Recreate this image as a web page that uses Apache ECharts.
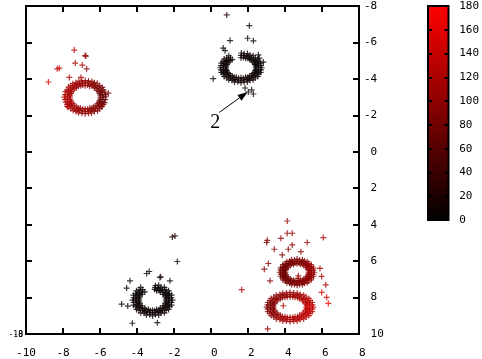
<!DOCTYPE html>
<html><head><meta charset="utf-8">
<script src="https://cdn.jsdelivr.net/npm/echarts@6/dist/echarts.min.js"></script>
<style>html,body{margin:0;padding:0;background:#fff}#c{width:482px;height:359px}</style>
</head><body><div id="c"></div>
<script>
// ---- data: [x, y, colour value] ----
const ringA = [
[-5.98,-3.00,70],[-6.03,-2.79,75],[-6.13,-2.63,85],[-6.33,-2.47,95],[-6.55,-2.40,100],[-6.80,-2.35,105],[-7.06,-2.40,108],[-7.27,-2.47,112],[-7.46,-2.63,116],[-7.57,-2.80,120],[-7.63,-3.01,120],[-7.57,-3.20,118],[-7.45,-3.39,115],[-7.28,-3.52,112],[-7.04,-3.62,108],[-6.80,-3.63,105],[-6.56,-3.60,100],[-6.31,-3.53,90],[-6.15,-3.37,82],[-6.01,-3.21,75],
[-5.68,-3.02,68],[-5.75,-2.70,72],[-5.90,-2.47,82],[-6.13,-2.24,92],[-6.46,-2.12,100],[-6.80,-2.09,105],[-7.16,-2.14,110],[-7.45,-2.26,114],[-7.72,-2.45,118],[-7.85,-2.72,122],[-7.93,-3.00,124],[-7.86,-3.30,122],[-7.70,-3.55,118],[-7.47,-3.74,114],[-7.14,-3.88,110],[-6.80,-3.91,105],[-6.44,-3.86,98],[-6.15,-3.76,88],[-5.88,-3.53,80],[-5.75,-3.28,72],
[-5.84,-2.88,70],[-5.95,-2.64,78],[-6.10,-2.45,88],[-6.37,-2.30,96],[-6.64,-2.22,102],[-6.97,-2.24,107],[-7.24,-2.30,111],[-7.50,-2.46,115],[-7.66,-2.64,120],[-7.77,-2.89,122],[-7.75,-3.12,121],[-7.67,-3.36,118],[-7.48,-3.55,114],[-7.25,-3.70,110],[-6.95,-3.77,106],[-6.63,-3.78,102],[-6.37,-3.68,94],[-6.10,-3.56,85],[-5.93,-3.35,76],[-5.85,-3.12,70]
];
const ringA2 = [
[-5.98,-2.89,72],[-6.06,-2.70,80],[-6.21,-2.52,88],[-6.43,-2.40,96],[-6.67,-2.34,102],[-6.93,-2.34,107],[-7.17,-2.40,110],[-7.39,-2.52,114],[-7.54,-2.70,118],[-7.62,-2.89,121],[-7.62,-3.11,121],[-7.54,-3.30,118],[-7.39,-3.48,114],[-7.17,-3.60,110],[-6.93,-3.66,107],[-6.67,-3.66,102],[-6.43,-3.60,96],[-6.21,-3.48,88],[-6.06,-3.30,80],[-5.98,-3.11,72],
[-5.83,-3.00,70],[-5.88,-2.76,75],[-6.01,-2.54,85],[-6.23,-2.37,92],[-6.50,-2.26,100],[-6.80,-2.22,105],[-7.10,-2.26,108],[-7.37,-2.37,112],[-7.59,-2.54,116],[-7.72,-2.76,120],[-7.77,-3.00,122],[-7.72,-3.24,120],[-7.59,-3.46,116],[-7.37,-3.63,112],[-7.10,-3.74,108],[-6.80,-3.78,105],[-6.50,-3.74,100],[-6.23,-3.63,92],[-6.01,-3.46,85],[-5.88,-3.24,75],
[-5.71,-2.86,72],[-5.82,-2.60,80],[-6.02,-2.37,88],[-6.30,-2.21,96],[-6.62,-2.12,102],[-6.98,-2.12,107],[-7.30,-2.21,110],[-7.58,-2.37,114],[-7.78,-2.60,118],[-7.89,-2.86,121],[-7.89,-3.14,121],[-7.78,-3.40,118],[-7.58,-3.63,114],[-7.30,-3.79,110],[-6.98,-3.88,107],[-6.62,-3.88,102],[-6.30,-3.79,96],[-6.02,-3.63,88],[-5.82,-3.40,80],[-5.71,-3.14,72]
];
const outA = [
[-8.79,-3.83,160],[-8.31,-4.55,135],[-8.20,-4.59,135],[-7.39,-5.58,140],[-6.81,-5.28,105],[-6.76,-5.25,105],[-7.34,-4.87,110],[-6.96,-4.76,120],[-6.72,-4.55,105],[-7.66,-4.08,125],[-7.03,-4.08,120],[-5.55,-3.22,85],[-7.77,-2.49,125],[-5.91,-2.49,90]
];
const ringB = [
[2.42,-4.61,5],[2.38,-4.44,5],[2.27,-4.29,8],[2.09,-4.16,8],[1.87,-4.09,10],[1.62,-4.06,10],[1.37,-4.09,10],[1.15,-4.16,8],[0.97,-4.29,8],[0.86,-4.44,6],[0.82,-4.61,6],[0.86,-4.78,6],[0.97,-4.93,8],[1.15,-5.06,8],[1.62,-5.16,10],[1.87,-5.13,10],[2.09,-5.06,8],[2.27,-4.93,6],[2.38,-4.78,5],
[2.74,-4.61,5],[2.68,-4.36,5],[2.53,-4.13,8],[2.28,-3.95,10],[1.97,-3.83,12],[1.62,-3.79,12],[1.27,-3.83,10],[0.96,-3.95,10],[0.71,-4.13,8],[0.56,-4.36,6],[0.50,-4.61,6],[0.56,-4.86,6],[0.71,-5.09,8],[0.96,-5.27,8],[1.64,-5.42,10],[1.97,-5.39,10],[2.28,-5.27,8],[2.53,-5.09,6],[2.68,-4.86,5],
[2.57,-4.50,5],[2.47,-4.30,6],[2.30,-4.13,8],[2.05,-4.00,10],[1.77,-3.94,12],[1.47,-3.94,12],[1.19,-4.00,10],[0.94,-4.13,8],[0.77,-4.30,6],[0.67,-4.50,6],[0.67,-4.72,6],[0.77,-4.92,8],[0.94,-5.09,8],[1.77,-5.28,10],[2.05,-5.22,8],[2.30,-5.09,6],[2.47,-4.92,5],[2.57,-4.72,5]
];
const ringB2 = [
[2.43,-4.52,5],[2.35,-4.35,6],[2.20,-4.20,8],[1.99,-4.09,10],[1.75,-4.04,12],[1.49,-4.04,12],[1.25,-4.09,10],[1.04,-4.20,8],[0.89,-4.35,6],[0.81,-4.52,6],[0.81,-4.70,6],[0.89,-4.87,8],[1.04,-5.02,8],[1.75,-5.18,10],[1.99,-5.13,8],[2.20,-5.02,6],[2.35,-4.87,5],[2.43,-4.70,5],
[2.58,-4.61,5],[2.53,-4.40,5],[2.40,-4.21,8],[2.19,-4.06,10],[1.92,-3.96,12],[1.62,-3.93,12],[1.32,-3.96,10],[1.05,-4.06,10],[0.84,-4.21,8],[0.71,-4.40,6],[0.66,-4.61,6],[0.71,-4.82,6],[0.84,-5.01,8],[1.05,-5.16,8],[1.62,-5.29,10],[1.92,-5.26,10],[2.19,-5.16,8],[2.40,-5.01,6],[2.53,-4.82,5],
[2.70,-4.49,5],[2.59,-4.26,6],[2.39,-4.06,8],[2.11,-3.92,10],[1.79,-3.84,12],[1.45,-3.84,12],[1.13,-3.92,10],[0.85,-4.06,8],[0.65,-4.26,6],[0.54,-4.49,6],[0.54,-4.73,6],[0.65,-4.96,8],[0.85,-5.16,8],[1.79,-5.38,10],[2.11,-5.30,8],[2.39,-5.16,6],[2.59,-4.96,5],[2.70,-4.73,5]
];
const outB = [
[0.85,-7.51,30],[2.07,-6.92,5],[1.98,-6.23,5],[2.29,-6.09,5],[1.03,-6.10,5],[0.66,-5.69,5],[0.76,-5.55,5],[2.56,-5.32,5],[2.61,-5.14,5],[2.83,-4.92,5],[0.12,-4.01,5],[2.20,-3.40,10],[2.29,-3.17,10],[2.02,-3.28,10],[1.84,-3.50,10]
];
const ringC = [
[-2.44,8.14,5],[-2.48,8.31,5],[-2.58,8.46,6],[-2.74,8.59,8],[-2.94,8.66,8],[-3.16,8.69,10],[-3.38,8.66,10],[-3.58,8.59,10],[-3.74,8.46,10],[-3.84,8.31,8],[-3.88,8.14,8],[-3.84,7.97,6],[-3.74,7.82,6],[-3.58,7.69,6],[-2.94,7.62,5],[-2.74,7.69,5],[-2.58,7.82,5],[-2.48,7.97,5],
[-2.08,8.14,5],[-2.13,8.41,5],[-2.29,8.65,6],[-2.52,8.84,8],[-2.83,8.96,10],[-3.16,9.00,10],[-3.49,8.96,10],[-3.80,8.84,10],[-4.03,8.65,10],[-4.19,8.41,8],[-4.24,8.14,8],[-4.19,7.87,6],[-4.03,7.63,6],[-3.80,7.44,6],[-2.83,7.32,5],[-2.52,7.44,5],[-2.29,7.63,5],[-2.13,7.87,5],
[-2.27,8.25,5],[-2.36,8.46,6],[-2.52,8.64,8],[-2.75,8.76,8],[-3.02,8.83,10],[-3.30,8.83,10],[-3.57,8.76,10],[-3.80,8.64,10],[-3.96,8.46,8],[-4.05,8.25,8],[-4.05,8.03,6],[-3.96,7.82,6],[-3.80,7.64,6],[-3.02,7.45,5],[-2.75,7.52,5],[-2.52,7.64,5],[-2.36,7.82,5],[-2.27,8.03,5]
];
const ringC2 = [
[-2.40,8.24,5],[-2.47,8.41,6],[-2.61,8.57,8],[-2.81,8.67,8],[-3.04,8.73,10],[-3.28,8.73,10],[-3.51,8.67,10],[-3.71,8.57,10],[-3.85,8.41,8],[-3.92,8.24,8],[-3.92,8.04,6],[-3.85,7.87,6],[-3.71,7.71,6],[-3.04,7.55,5],[-2.81,7.61,5],[-2.61,7.71,5],[-2.47,7.87,5],[-2.40,8.04,5],
[-2.26,8.14,5],[-2.30,8.36,5],[-2.43,8.55,6],[-2.63,8.71,8],[-2.88,8.81,10],[-3.16,8.84,10],[-3.44,8.81,10],[-3.69,8.71,10],[-3.89,8.55,10],[-4.02,8.36,8],[-4.06,8.14,8],[-4.02,7.92,6],[-3.89,7.73,6],[-3.69,7.57,6],[-2.88,7.47,5],[-2.63,7.57,5],[-2.43,7.73,5],[-2.30,7.92,5],
[-2.14,8.27,5],[-2.24,8.50,6],[-2.43,8.71,8],[-2.70,8.85,8],[-3.00,8.93,10],[-3.32,8.93,10],[-3.62,8.85,10],[-3.89,8.71,10],[-4.08,8.50,8],[-4.18,8.27,8],[-4.18,8.01,6],[-4.08,7.78,6],[-3.89,7.57,6],[-3.00,7.35,5],[-2.70,7.43,5],[-2.43,7.57,5],[-2.24,7.78,5],[-2.14,8.01,5]
];
const outC = [
[-2.09,4.67,20],[-1.95,4.62,20],[-1.82,6.02,5],[-3.48,6.68,5],[-3.34,6.57,5],[-2.76,6.90,15],[-2.72,6.86,15],[-4.38,7.08,5],[-4.56,7.48,5],[-2.22,7.08,5],[-4.83,8.36,5],[-4.50,8.47,5],[-4.25,9.41,5],[-2.90,9.38,5]
];
const ringD = [
[5.27,6.61,105],[5.24,6.75,105],[5.15,6.88,100],[5.02,6.98,95],[4.84,7.05,90],[4.65,7.07,88],[4.46,7.05,85],[4.28,6.98,82],[4.15,6.88,80],[4.06,6.75,80],[4.03,6.61,80],[4.06,6.47,80],[4.15,6.34,82],[4.28,6.24,85],[4.46,6.17,88],[4.65,6.15,90],[4.84,6.17,95],[5.02,6.24,100],[5.15,6.34,105],[5.24,6.47,105],
[5.59,6.61,110],[5.54,6.83,110],[5.41,7.03,105],[5.20,7.19,98],[4.94,7.29,92],[4.65,7.33,88],[4.36,7.29,85],[4.10,7.19,82],[3.89,7.03,80],[3.76,6.83,78],[3.71,6.61,78],[3.76,6.39,78],[3.89,6.19,80],[4.10,6.03,82],[4.36,5.93,85],[4.65,5.89,90],[4.94,5.93,95],[5.20,6.03,100],[5.41,6.19,105],[5.54,6.39,110],
[5.42,6.70,108],[5.34,6.88,105],[5.20,7.03,100],[5.00,7.14,94],[4.77,7.19,90],[4.53,7.19,86],[4.30,7.14,83],[4.10,7.03,80],[3.96,6.88,78],[3.88,6.70,78],[3.88,6.52,78],[3.96,6.34,80],[4.10,6.19,82],[4.30,6.08,85],[4.53,6.03,88],[4.77,6.03,92],[5.00,6.08,96],[5.20,6.19,102],[5.34,6.34,106],[5.42,6.52,108]
];
const ringD2 = [
[5.31,6.69,108],[5.25,6.84,104],[5.13,6.97,99],[4.95,7.06,93],[4.76,7.11,89],[4.54,7.11,86],[4.35,7.06,83],[4.17,6.97,81],[4.05,6.84,79],[3.99,6.69,78],[3.99,6.53,78],[4.05,6.38,79],[4.17,6.25,81],[4.35,6.16,83],[4.54,6.11,86],[4.76,6.11,89],[4.95,6.16,93],[5.13,6.25,99],[5.25,6.38,104],[5.31,6.53,108],
[5.43,6.61,108],[5.39,6.79,106],[5.28,6.96,102],[5.11,7.09,96],[4.89,7.17,91],[4.65,7.20,88],[4.41,7.17,85],[4.19,7.09,82],[4.02,6.96,80],[3.91,6.79,78],[3.87,6.61,78],[3.91,6.43,78],[4.02,6.26,80],[4.19,6.13,82],[4.41,6.05,85],[4.65,6.02,88],[4.89,6.05,91],[5.11,6.13,96],[5.28,6.26,102],[5.39,6.43,106],
[5.53,6.72,108],[5.44,6.92,104],[5.28,7.09,99],[5.05,7.22,93],[4.79,7.28,89],[4.51,7.28,86],[4.25,7.22,83],[4.02,7.09,81],[3.86,6.92,79],[3.77,6.72,78],[3.77,6.50,78],[3.86,6.30,79],[4.02,6.13,81],[4.25,6.00,83],[4.51,5.94,86],[4.79,5.94,89],[5.05,6.00,93],[5.28,6.13,99],[5.44,6.30,104],[5.53,6.50,108]
];
const ringE = [
[5.15,8.52,135],[5.11,8.69,135],[4.98,8.85,130],[4.79,8.97,128],[4.54,9.05,125],[4.27,9.08,120],[4.00,9.05,115],[3.75,8.97,110],[3.56,8.85,100],[3.43,8.69,95],[3.39,8.52,92],[3.43,8.35,92],[3.56,8.19,95],[3.75,8.07,98],[4.00,7.99,100],[4.27,7.96,105],[4.54,7.99,110],[4.79,8.07,118],[4.98,8.19,125],[5.11,8.35,130],
[5.53,8.52,140],[5.47,8.77,140],[5.29,8.99,138],[5.01,9.17,132],[4.66,9.28,128],[4.27,9.32,122],[3.88,9.28,115],[3.53,9.17,108],[3.25,8.99,100],[3.07,8.77,95],[3.01,8.52,90],[3.07,8.27,90],[3.25,8.05,92],[3.53,7.87,95],[3.88,7.76,100],[4.27,7.72,105],[4.66,7.76,112],[5.01,7.87,120],[5.29,8.05,128],[5.47,8.27,135],
[5.33,8.63,138],[5.22,8.83,135],[5.03,9.00,132],[4.75,9.13,128],[4.44,9.19,124],[4.10,9.19,118],[3.79,9.13,112],[3.51,9.00,104],[3.32,8.83,96],[3.21,8.63,92],[3.21,8.41,90],[3.32,8.21,92],[3.51,8.04,96],[3.79,7.91,100],[4.10,7.85,104],[4.44,7.85,108],[4.75,7.91,115],[5.03,8.04,122],[5.22,8.21,130],[5.33,8.41,135]
];
const ringE2 = [
[5.18,8.61,137],[5.09,8.78,134],[4.92,8.93,130],[4.68,9.04,126],[4.42,9.09,122],[4.12,9.09,117],[3.86,9.04,110],[3.62,8.93,102],[3.45,8.78,95],[3.36,8.61,91],[3.36,8.43,90],[3.45,8.26,92],[3.62,8.11,96],[3.86,8.00,100],[4.12,7.95,104],[4.42,7.95,108],[4.68,8.00,114],[4.92,8.11,122],[5.09,8.26,130],[5.18,8.43,136],
[5.34,8.52,138],[5.29,8.73,136],[5.14,8.92,132],[4.90,9.07,128],[4.60,9.17,124],[4.27,9.20,120],[3.94,9.17,114],[3.64,9.07,106],[3.40,8.92,98],[3.25,8.73,93],[3.20,8.52,90],[3.25,8.31,91],[3.40,8.12,94],[3.64,7.97,98],[3.94,7.87,102],[4.27,7.84,106],[4.60,7.87,111],[4.90,7.97,118],[5.14,8.12,126],[5.29,8.31,133],
[5.48,8.64,137],[5.36,8.87,134],[5.14,9.07,130],[4.82,9.21,126],[4.47,9.29,122],[4.07,9.29,117],[3.72,9.21,110],[3.40,9.07,102],[3.18,8.87,95],[3.06,8.64,91],[3.06,8.40,90],[3.18,8.17,92],[3.40,7.97,96],[3.72,7.83,100],[4.07,7.75,104],[4.47,7.75,108],[4.82,7.83,114],[5.14,7.97,122],[5.36,8.17,130],[5.48,8.40,136]
];
const outDE = [
[4.12,3.80,105],[4.12,4.47,100],[4.39,4.47,100],[3.04,4.86,90],[3.01,4.98,90],[3.78,4.75,105],[4.39,5.11,100],[6.07,4.71,125],[5.20,4.98,115],[3.42,5.35,95],[4.18,5.35,100],[4.86,5.48,100],[3.85,5.66,90],[3.10,6.13,95],[2.88,6.44,90],[5.89,6.40,115],[5.98,6.84,120],[3.19,7.08,95],[6.20,7.30,130],[5.98,7.72,150],[6.25,7.99,160],[6.34,8.32,170],[4.72,6.81,110],[4.72,6.95,110],[3.91,8.45,130],[3.06,9.72,100],[1.66,7.57,130]
];

// axes / scale
const xRange = [-10, 8], xStep = 2;
const yRange = [-8, 10], yStep = 2;
const cRange = [0, 180], cStep = 20;
// annotation
const arrowFrom = [0.45, -2.16];
const arrowTo = [1.98, -3.28];
const noteText = '2';
const notePos = [0.23, -1.6];
const cornerTexts = ['-10', '-8'];

const allPoints = [].concat(ringA, ringA2, outA, ringB, ringB2, outB, ringC, ringC2, outC, ringD, ringD2, ringE, ringE2, outDE);

const FONT = 'DejaVu Sans Mono';
const fmt = v => (v < 0 ? String(v) : ' ' + v);
const tickStyle = {show: true, inside: true, length: 6, lineStyle: {color: '#000', width: 2}};
const lbl = {color: '#000', fontFamily: FONT, fontSize: 11, formatter: fmt};
const noLine = {show: false, onZero: false};

const chart = echarts.init(document.getElementById('c'), null, {renderer: 'canvas'});
chart.setOption({
  animation: false,
  backgroundColor: '#fff',
  grid: [
    {left: 26, top: 6, width: 333, height: 329, show: true, borderColor: '#000', borderWidth: 2, backgroundColor: 'transparent'},
    {left: 428, top: 6, width: 23, height: 214, show: true, borderColor: '#000', borderWidth: 2,
     backgroundColor: new echarts.graphic.LinearGradient(0, 0, 0, 1, [{offset: 0, color: '#ff0000'}, {offset: 1, color: '#000000'}])}
  ],
  xAxis: [
    {type: 'value', gridIndex: 0, position: 'bottom', min: xRange[0], max: xRange[1], interval: xStep,
     axisLine: noLine, axisTick: tickStyle, splitLine: {show: false},
     axisLabel: Object.assign({}, lbl, {margin: 14})},
    {type: 'value', gridIndex: 0, position: 'top', min: xRange[0], max: xRange[1], interval: xStep,
     axisLine: noLine, axisTick: tickStyle, splitLine: {show: false}, axisLabel: {show: false}},
    {type: 'value', gridIndex: 1, min: 0, max: 1, show: false}
  ],
  yAxis: [
    {type: 'value', gridIndex: 0, position: 'right', inverse: true, min: yRange[0], max: yRange[1], interval: yStep,
     axisLine: noLine, axisTick: tickStyle, splitLine: {show: false},
     axisLabel: Object.assign({}, lbl, {margin: 5})},
    {type: 'value', gridIndex: 0, position: 'left', inverse: true, min: yRange[0], max: yRange[1], interval: yStep,
     axisLine: noLine, axisTick: tickStyle, splitLine: {show: false}, axisLabel: {show: false}},
    {type: 'value', gridIndex: 1, position: 'right', min: cRange[0], max: cRange[1], interval: cStep,
     axisLine: noLine, axisTick: {show: true, inside: true, length: 4, lineStyle: {color: '#000', width: 2}},
     splitLine: {show: false}, axisLabel: Object.assign({}, lbl, {margin: 4})},
    {type: 'value', gridIndex: 1, position: 'left', min: cRange[0], max: cRange[1], interval: cStep,
     axisLine: noLine, axisTick: {show: true, inside: true, length: 4, lineStyle: {color: '#000', width: 2}},
     splitLine: {show: false}, axisLabel: {show: false}}
  ],
  visualMap: {
    type: 'continuous', show: false, seriesIndex: 0, dimension: 2,
    min: cRange[0], max: cRange[1], inRange: {color: ['#000000', '#ff0000']}
  },
  series: [{
    type: 'scatter', xAxisIndex: 0, yAxisIndex: 0,
    symbol: 'path://M4,0H6V4H10V6H6V10H4V6H0V4H4Z', symbolSize: 6,
    data: allPoints, silent: true
  }]
});

// annotation arrow + text placed through the axes' own scales
const p0 = chart.convertToPixel({xAxisIndex: 0, yAxisIndex: 0}, arrowFrom);
const p1 = chart.convertToPixel({xAxisIndex: 0, yAxisIndex: 0}, arrowTo);
const pt = chart.convertToPixel({xAxisIndex: 0, yAxisIndex: 0}, notePos);
const dx = p1[0] - p0[0], dy = p1[1] - p0[1], L = Math.hypot(dx, dy);
const ux = dx / L, uy = dy / L, HL = 10, HW = 3.5;
const bx = p1[0] - ux * HL, by = p1[1] - uy * HL;
chart.setOption({
  graphic: [
    {type: 'line', shape: {x1: p0[0], y1: p0[1], x2: bx, y2: by}, style: {stroke: '#000', lineWidth: 1}},
    {type: 'polygon', shape: {points: [[p1[0], p1[1]], [bx - uy * HW, by + ux * HW], [bx + uy * HW, by - ux * HW]]}, style: {fill: '#000'}},
    {type: 'text', x: pt[0], y: pt[1], style: {text: noteText, font: '20px "Liberation Serif"', fill: '#000', align: 'center', verticalAlign: 'middle'}},
    {type: 'text', x: 23, y: 335, style: {text: cornerTexts[0], font: '8px "DejaVu Sans Mono"', fill: '#000', align: 'right', verticalAlign: 'middle'}},
    {type: 'text', x: 23, y: 335, style: {text: cornerTexts[1], font: '8px "DejaVu Sans Mono"', fill: '#000', align: 'right', verticalAlign: 'middle'}}
  ]
});
</script></body></html>
